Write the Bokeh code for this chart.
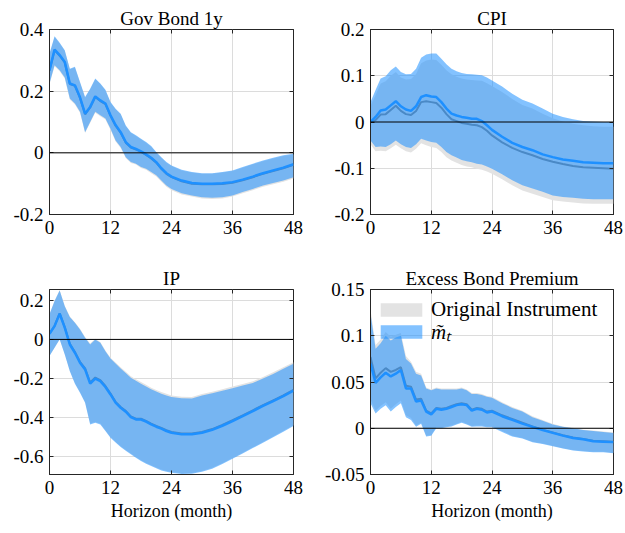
from bokeh.plotting import figure
from bokeh.layouts import gridplot
from bokeh.models import Span, Legend, LegendItem, FixedTicker, LinearAxis, Range1d
from bokeh.embed import file_html
from bokeh.resources import INLINE

horizon = [0, 1, 2, 3, 4, 5, 6, 7, 8, 9, 10, 11, 12, 13, 14, 15, 16, 17, 18, 19, 20, 21, 22, 23, 24,
           26, 28, 30, 32, 34, 36, 38, 40, 42, 44, 46, 48]

# ---- Gov Bond 1y ----
gov_mt = [0.268, 0.335, 0.317, 0.295, 0.225, 0.219, 0.18, 0.127, 0.149, 0.183, 0.17, 0.16, 0.122, 0.09, 0.067,
          0.035, 0.019, 0.013, 0.005, -0.005, -0.016, -0.03, -0.05, -0.066, -0.077,
          -0.09, -0.098, -0.1, -0.1, -0.099, -0.095, -0.087, -0.077, -0.066, -0.057, -0.048, -0.037]
gov_mt_hi = [0.322, 0.378, 0.357, 0.333, 0.273, 0.279, 0.23, 0.181, 0.208, 0.241, 0.225, 0.205, 0.165, 0.143, 0.127,
             0.089, 0.067, 0.057, 0.046, 0.035, 0.022, 0.003, -0.014, -0.03, -0.041,
             -0.055, -0.062, -0.066, -0.066, -0.062, -0.057, -0.046, -0.035, -0.025, -0.016, -0.008, -0.003]
gov_mt_lo = [0.225, 0.284, 0.268, 0.244, 0.176, 0.16, 0.133, 0.067, 0.1, 0.133, 0.122, 0.111, 0.078, 0.04, 0.019,
             -0.014, -0.03, -0.035, -0.046, -0.052, -0.062, -0.073, -0.09, -0.106, -0.117,
             -0.131, -0.138, -0.144, -0.146, -0.144, -0.138, -0.127, -0.117, -0.106, -0.098, -0.09, -0.079]
gov_or = [0.266, 0.333, 0.315, 0.293, 0.223, 0.217, 0.178, 0.125, 0.147, 0.181, 0.168, 0.158, 0.12, 0.088, 0.065,
          0.033, 0.017, 0.011, 0.003, -0.007, -0.018, -0.032, -0.052, -0.068, -0.079,
          -0.092, -0.1, -0.102, -0.102, -0.101, -0.097, -0.089, -0.079, -0.068, -0.059, -0.05, -0.039]
gov_or_hi = [0.32, 0.376, 0.355, 0.331, 0.271, 0.277, 0.228, 0.179, 0.206, 0.239, 0.223, 0.203, 0.163, 0.141, 0.125,
             0.087, 0.065, 0.055, 0.044, 0.033, 0.02, 0.001, -0.016, -0.032, -0.043,
             -0.057, -0.064, -0.068, -0.068, -0.064, -0.059, -0.048, -0.037, -0.027, -0.018, -0.01, -0.005]
gov_or_lo = [0.222, 0.281, 0.265, 0.241, 0.173, 0.157, 0.13, 0.064, 0.097, 0.13, 0.119, 0.108, 0.075, 0.037, 0.016,
             -0.017, -0.033, -0.038, -0.049, -0.055, -0.066, -0.077, -0.094, -0.11, -0.121,
             -0.135, -0.142, -0.148, -0.15, -0.148, -0.142, -0.131, -0.121, -0.11, -0.102, -0.094, -0.083]

# ---- CPI ----
cpi_mt = [0.0, 0.011, 0.025, 0.027, 0.036, 0.045, 0.034, 0.027, 0.024, 0.034, 0.054, 0.058, 0.055, 0.054, 0.043,
          0.029, 0.018, 0.014, 0.011, 0.009, 0.007, 0.007, 0.002, -0.007, -0.017,
          -0.032, -0.045, -0.054, -0.061, -0.07, -0.076, -0.081, -0.084, -0.087, -0.088, -0.089, -0.089]
cpi_mt_hi = [0.043, 0.069, 0.094, 0.099, 0.112, 0.12, 0.108, 0.103, 0.104, 0.115, 0.139, 0.146, 0.148, 0.148, 0.137,
             0.125, 0.115, 0.11, 0.106, 0.104, 0.103, 0.102, 0.101, 0.096, 0.09,
             0.077, 0.061, 0.048, 0.04, 0.029, 0.018, 0.011, 0.006, 0.002, 0.001, 0.0, 0.0]
cpi_mt_lo = [-0.04, -0.054, -0.053, -0.054, -0.048, -0.04, -0.048, -0.054, -0.056, -0.048, -0.036, -0.04, -0.043,
             -0.045, -0.054, -0.065, -0.072, -0.077, -0.082, -0.085, -0.087, -0.09, -0.092, -0.096, -0.101,
             -0.113, -0.126, -0.137, -0.144, -0.151, -0.159, -0.162, -0.164, -0.166, -0.167, -0.167, -0.167]
cpi_or = [0.0, 0.004, 0.016, 0.017, 0.026, 0.035, 0.024, 0.017, 0.015, 0.024, 0.043, 0.045, 0.043, 0.041, 0.031,
          0.017, 0.006, 0.002, -0.002, -0.004, -0.006, -0.007, -0.011, -0.019, -0.029,
          -0.044, -0.056, -0.065, -0.072, -0.08, -0.086, -0.091, -0.095, -0.098, -0.099, -0.1, -0.101]
cpi_or_hi = [0.035, 0.058, 0.083, 0.088, 0.1, 0.108, 0.096, 0.092, 0.093, 0.104, 0.127, 0.133, 0.135, 0.134, 0.124,
             0.112, 0.103, 0.098, 0.094, 0.092, 0.091, 0.09, 0.089, 0.084, 0.078,
             0.065, 0.05, 0.037, 0.029, 0.018, 0.008, 0.001, -0.004, -0.007, -0.009, -0.01, -0.01]
cpi_or_lo = [-0.048, -0.063, -0.062, -0.063, -0.057, -0.049, -0.057, -0.063, -0.066, -0.058, -0.046, -0.05, -0.054,
             -0.056, -0.065, -0.076, -0.083, -0.088, -0.093, -0.096, -0.098, -0.101, -0.103, -0.107, -0.112,
             -0.124, -0.137, -0.148, -0.155, -0.162, -0.169, -0.172, -0.174, -0.176, -0.177, -0.177, -0.177]

# ---- IP ----
ip_mt = [0.029, 0.068, 0.131, 0.06, -0.026, -0.068, -0.119, -0.153, -0.226, -0.2, -0.213, -0.243, -0.281, -0.323,
         -0.349, -0.369, -0.397, -0.409, -0.409, -0.42, -0.434, -0.446, -0.456, -0.468, -0.477,
         -0.485, -0.484, -0.477, -0.462, -0.441, -0.417, -0.392, -0.366, -0.34, -0.315, -0.29, -0.262]
ip_mt_hi = [0.128, 0.196, 0.25, 0.17, 0.114, 0.085, 0.051, 0.009, -0.026, 0.0, -0.017, -0.06, -0.097, -0.123,
            -0.148, -0.172, -0.196, -0.211, -0.226, -0.24, -0.255, -0.266, -0.277, -0.286, -0.294,
            -0.301, -0.302, -0.287, -0.275, -0.262, -0.249, -0.236, -0.222, -0.2, -0.176, -0.15, -0.124]
ip_mt_lo = [-0.085, -0.043, 0.0, -0.077, -0.162, -0.226, -0.272, -0.323, -0.434, -0.426, -0.434, -0.468, -0.502,
            -0.527, -0.55, -0.569, -0.587, -0.604, -0.621, -0.635, -0.647, -0.658, -0.669, -0.676, -0.681,
            -0.688, -0.686, -0.676, -0.66, -0.637, -0.61, -0.583, -0.555, -0.528, -0.5, -0.471, -0.442]
ip_or = [0.03, 0.07, 0.133, 0.063, -0.022, -0.064, -0.114, -0.148, -0.22, -0.195, -0.208, -0.238, -0.277, -0.319,
         -0.345, -0.365, -0.393, -0.405, -0.405, -0.416, -0.43, -0.442, -0.452, -0.464, -0.473,
         -0.481, -0.48, -0.473, -0.458, -0.437, -0.413, -0.388, -0.362, -0.336, -0.311, -0.286, -0.258]
ip_or_hi = [0.13, 0.198, 0.252, 0.172, 0.117, 0.088, 0.055, 0.013, -0.021, 0.004, -0.013, -0.056, -0.093, -0.118,
            -0.142, -0.165, -0.188, -0.203, -0.218, -0.232, -0.247, -0.258, -0.269, -0.278, -0.286,
            -0.293, -0.294, -0.279, -0.267, -0.254, -0.241, -0.228, -0.214, -0.192, -0.168, -0.142, -0.116]
ip_or_lo = [-0.083, -0.041, 0.002, -0.075, -0.16, -0.223, -0.269, -0.32, -0.43, -0.422, -0.43, -0.464, -0.498,
            -0.523, -0.546, -0.565, -0.583, -0.6, -0.617, -0.631, -0.643, -0.654, -0.665, -0.672, -0.677,
            -0.684, -0.682, -0.672, -0.656, -0.633, -0.606, -0.579, -0.551, -0.524, -0.496, -0.467, -0.438]

# ---- Excess Bond Premium ----
ebp_mt = [0.07, 0.049, 0.055, 0.06, 0.056, 0.059, 0.063, 0.043, 0.043, 0.029, 0.03, 0.018, 0.015, 0.021, 0.02,
          0.021, 0.023, 0.025, 0.026, 0.025, 0.019, 0.021, 0.02, 0.017, 0.018,
          0.013, 0.009, 0.005, 0.0015, -0.002, -0.005, -0.008, -0.0105, -0.012, -0.014, -0.0145, -0.015]
ebp_mt_hi = [0.124, 0.086, 0.092, 0.1, 0.095, 0.098, 0.1, 0.075, 0.07, 0.059, 0.057, 0.043, 0.041, 0.043, 0.042,
             0.042, 0.042, 0.042, 0.043, 0.041, 0.037, 0.037, 0.036, 0.034, 0.033,
             0.027, 0.022, 0.018, 0.012, 0.008, 0.004, 0.0015, 0.0, -0.002, -0.003, -0.004, -0.005]
ebp_mt_lo = [0.027, 0.016, 0.021, 0.025, 0.018, 0.023, 0.027, 0.012, 0.009, 0.0015, 0.005, -0.009, -0.008, 0.0, 0.0,
             0.001, 0.002, 0.004, 0.006, 0.004, 0.0015, 0.002, 0.002, 0.001, 0.001,
             -0.004, -0.009, -0.011, -0.015, -0.017, -0.0195, -0.022, -0.024, -0.025, -0.026, -0.026, -0.027]
ebp_or = [0.077, 0.054, 0.06, 0.065, 0.061, 0.063, 0.066, 0.046, 0.045, 0.031, 0.032, 0.019, 0.016, 0.022, 0.021,
          0.022, 0.024, 0.026, 0.027, 0.026, 0.02, 0.022, 0.021, 0.018, 0.019,
          0.014, 0.01, 0.006, 0.002, -0.0015, -0.0045, -0.0075, -0.01, -0.0115, -0.0135, -0.014, -0.0145]
ebp_or_hi = [0.128, 0.09, 0.096, 0.104, 0.099, 0.101, 0.103, 0.078, 0.072, 0.061, 0.059, 0.044, 0.042, 0.044, 0.043,
             0.043, 0.043, 0.043, 0.044, 0.042, 0.038, 0.038, 0.037, 0.035, 0.034,
             0.028, 0.023, 0.019, 0.013, 0.009, 0.005, 0.002, 0.0005, -0.0015, -0.0025, -0.0035, -0.0045]
ebp_or_lo = [0.031, 0.019, 0.024, 0.028, 0.021, 0.026, 0.03, 0.014, 0.011, 0.003, 0.006, -0.008, -0.007, 0.001, 0.001,
             0.002, 0.003, 0.005, 0.007, 0.005, 0.0025, 0.003, 0.003, 0.002, 0.002,
             -0.003, -0.008, -0.0105, -0.0145, -0.0165, -0.019, -0.0215, -0.0235, -0.0245, -0.0255, -0.0255, -0.0265]

x_ticks = [0, 12, 24, 36, 48]
titles = ["Gov Bond 1y", "CPI", "IP", "Excess Bond Premium"]
y_ranges = [(-0.2, 0.4), (-0.2, 0.2), (-0.69, 0.255), (-0.05, 0.15)]
y_ticks = [[-0.2, 0, 0.2, 0.4], [-0.2, -0.1, 0, 0.1, 0.2], [-0.6, -0.4, -0.2, 0, 0.2],
           [-0.05, 0, 0.05, 0.1, 0.15]]
y_tick_labels = [["-0.2", "0", "0.2", "0.4"], ["-0.2", "-0.1", "0", "0.1", "0.2"],
                 ["-0.6", "-0.4", "-0.2", "0", "0.2"], ["-0.05", "0", "0.05", "0.1", "0.15"]]
x_label = "Horizon (month)"
legend_labels = ["Original Instrument", "m\u0303\u209c"]

FONT = "Liberation Serif"
AX = "#262626"
BLUE = "#1E90FF"
GRAY_BAND = "#e3e3e3"
GRAY_LINE = "#808080"


def mirror_axis(ticks):
    ax = LinearAxis(ticker=FixedTicker(ticks=ticks), axis_line_color=None,
                    major_tick_line_color=AX, major_tick_in=4, major_tick_out=0,
                    minor_tick_line_color=None, major_label_text_font_size="0px",
                    major_label_text_color=None, major_label_standoff=0)
    return ax


def make_panel(idx, series, width, height, left, right, top, bottom, xlabel):
    mt, mt_hi, mt_lo, orr, or_hi, or_lo = series
    p = figure(width=width, height=height, output_backend="svg", toolbar_location=None,
               x_range=Range1d(0, 48), y_range=Range1d(*y_ranges[idx]),
               min_border_left=left, min_border_right=right, min_border_top=top,
               min_border_bottom=bottom, title=titles[idx])
    p.title.align = "center"
    p.title.text_font = FONT
    p.title.text_font_size = "19px"
    p.title.text_font_style = "normal"
    p.title.text_color = "black"
    p.title.standoff = 2
    p.outline_line_color = AX
    p.outline_line_alpha = 1
    p.background_fill_color = "white"
    p.border_fill_color = "white"

    for ax in (p.xaxis[0], p.yaxis[0]):
        ax.axis_line_color = AX
        ax.major_tick_line_color = AX
        ax.major_tick_in = 4
        ax.major_tick_out = 0
        ax.minor_tick_line_color = None
        ax.major_label_text_font = FONT
        ax.major_label_text_font_size = "19px"
        ax.major_label_text_color = "black"
        ax.major_label_standoff = 6
    p.xaxis[0].ticker = FixedTicker(ticks=x_ticks)
    p.yaxis[0].ticker = FixedTicker(ticks=y_ticks[idx])
    p.yaxis[0].major_label_overrides = {t: s for t, s in zip(y_ticks[idx], y_tick_labels[idx])}
    p.xaxis[0].major_label_overrides = {t: str(t) for t in x_ticks}
    if xlabel:
        p.xaxis[0].axis_label = x_label
        p.xaxis[0].axis_label_text_font = FONT
        p.xaxis[0].axis_label_text_font_size = "18px"
        p.xaxis[0].axis_label_text_font_style = "normal"
        p.xaxis[0].axis_label_text_color = "black"
        p.xaxis[0].axis_label_standoff = 4
    p.add_layout(mirror_axis(y_ticks[idx]), "right")
    p.add_layout(mirror_axis(x_ticks), "above")

    p.xgrid.ticker = FixedTicker(ticks=x_ticks)
    p.ygrid.ticker = FixedTicker(ticks=y_ticks[idx])
    p.grid.grid_line_color = "#dcdcdc"
    p.grid.grid_line_width = 1

    g_band = p.varea(x=horizon, y1=or_lo, y2=or_hi, fill_color=GRAY_BAND, fill_alpha=1)
    p.line(horizon, orr, line_color=GRAY_LINE, line_width=2)
    b_band = p.varea(x=horizon, y1=mt_lo, y2=mt_hi, fill_color=BLUE, fill_alpha=0.55)
    p.line(horizon, mt, line_color=BLUE, line_width=2.5)
    p.add_layout(Span(location=0, dimension="width", line_color="black", line_width=1))
    return p, g_band, b_band


f1, _, _ = make_panel(0, (gov_mt, gov_mt_hi, gov_mt_lo, gov_or, gov_or_hi, gov_or_lo),
                      310, 260, 49, 17, 29, 46, False)
f2, _, _ = make_panel(1, (cpi_mt, cpi_mt_hi, cpi_mt_lo, cpi_or, cpi_or_hi, cpi_or_lo),
                      315, 260, 60, 12, 29, 46, False)
f3, _, _ = make_panel(2, (ip_mt, ip_mt_hi, ip_mt_lo, ip_or, ip_or_hi, ip_or_lo),
                      310, 273, 49, 17, 29, 59, True)
f4, gb, bb = make_panel(3, (ebp_mt, ebp_mt_hi, ebp_mt_lo, ebp_or, ebp_or_hi, ebp_or_lo),
                        315, 273, 60, 12, 29, 59, True)

leg1 = Legend(items=[LegendItem(label=legend_labels[0], renderers=[gb])], location=(5, 152),
              background_fill_alpha=0, border_line_color=None, margin=0, padding=0,
              glyph_width=52, glyph_height=17, label_height=17, label_standoff=4,
              label_text_font=FONT, label_text_font_size="21px", label_text_color="black")
leg2 = Legend(items=[LegendItem(label=legend_labels[1], renderers=[bb])], location=(5, 129),
              background_fill_alpha=0, border_line_color=None, margin=0, padding=0,
              glyph_width=52, glyph_height=17, label_height=17, label_standoff=4,
              label_text_font=FONT, label_text_font_size="21px", label_text_font_style="italic",
              label_text_color="black")
f4.add_layout(leg1)
f4.add_layout(leg2)

grid = gridplot([[f1, f2], [f3, f4]], toolbar_location=None)

open("out.html", "w").write(file_html(grid, INLINE))
